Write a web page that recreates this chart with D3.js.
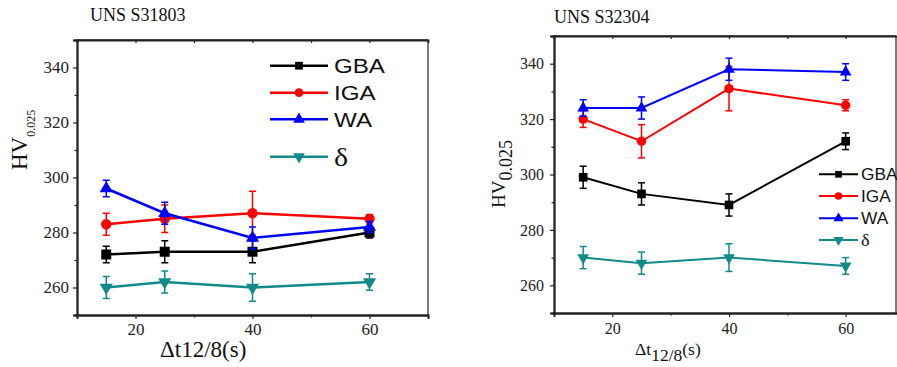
<!DOCTYPE html>
<html><head><meta charset="utf-8">
<script src="https://cdn.jsdelivr.net/npm/d3@7"></script>
<style>html,body{margin:0;padding:0;background:#fff;}svg{display:block;}</style>
</head><body>
<script>
// ---- data ----
const xValues = [15, 25, 40, 60];
const seriesNames = ["GBA", "IGA", "WA", "δ"];
const seriesColors = ["#000000", "#ff0000", "#0000ff", "#138a8a"];
const seriesShapes = ["square", "circle", "triangle", "triangleDown"];

// UNS S31803
const s31803_GBA = [272, 273, 273, 280];
const s31803_GBA_err = [3, 4, 4, 2];
const s31803_IGA = [283, 285, 287, 285];
const s31803_IGA_err = [4, 5, 8, 1.5];
const s31803_WA = [296, 287, 278, 282];
const s31803_WA_err = [3, 4, 4, 2];
const s31803_delta = [260, 262, 260, 262];
const s31803_delta_err = [4, 4, 5, 3];

// UNS S32304
const s32304_GBA = [299, 293, 289, 312];
const s32304_GBA_err = [4, 4, 4, 3];
const s32304_IGA = [320, 312, 331, 325];
const s32304_IGA_err = [3, 6, 8, 2];
const s32304_WA = [324, 324, 338, 337];
const s32304_WA_err = [3, 4, 4, 3];
const s32304_delta = [270, 268, 270, 267];
const s32304_delta_err = [4, 4, 5, 3];

const yTicks = [260, 280, 300, 320, 340];
const yMinorTicks = [270, 290, 310, 330, 350];
const xTicks = [20, 40, 60];
const xMinorTicks = [30, 50];
const xDomain = [10, 70];
const yDomain = [250, 350];

const W = 897, H = 367;
const SERIF = "'Liberation Serif','Times New Roman',serif";
const SANS = "'Liberation Sans',Arial,sans-serif";

const svg = d3.select("body").append("svg").attr("width", W).attr("height", H);

function symbolPath(shape, size) {
  if (shape === "square") return d3.symbol(d3.symbolSquare, size)();
  if (shape === "circle") return d3.symbol(d3.symbolCircle, size)();
  return d3.symbol(d3.symbolTriangle, size)();
}

function drawPanel(cfg) {
  const g = svg.append("g");
  const x = d3.scaleLinear().domain(xDomain).range([cfg.left, cfg.left + cfg.xSpan]);
  const y = d3.scaleLinear().domain(yDomain).range([cfg.bottom, cfg.top]);
  const right = Math.min(x(xDomain[1]), W - 1);

  // frame top/right
  g.append("line").attr("x1", cfg.left).attr("x2", right).attr("y1", cfg.top).attr("y2", cfg.top)
    .attr("stroke", "#333").attr("stroke-width", 1.3);
  g.append("line").attr("x1", right).attr("x2", right).attr("y1", cfg.top).attr("y2", cfg.bottom)
    .attr("stroke", "#333").attr("stroke-width", 1.3);

  // axes
  const yAx = g.append("g").attr("transform", `translate(${cfg.left},0)`)
    .call(d3.axisLeft(y).tickValues(yTicks).tickSize(4).tickPadding(cfg.yPad).tickFormat(d3.format("d")));
  g.append("g").attr("transform", `translate(${cfg.left},0)`)
    .call(d3.axisLeft(y).tickValues(yMinorTicks).tickSize(2.5).tickFormat(""));
  const xAx = g.append("g").attr("transform", `translate(0,${cfg.bottom})`)
    .call(d3.axisBottom(x).tickValues(xTicks).tickSize(4).tickPadding(cfg.xPad).tickFormat(d3.format("d")));
  g.append("g").attr("transform", `translate(0,${cfg.bottom})`)
    .call(d3.axisBottom(x).tickValues(xMinorTicks).tickSize(2.5).tickFormat(""));
  // top inward ticks
  g.append("g").attr("transform", `translate(0,${cfg.top})`)
    .call(d3.axisTop(x).tickValues(xTicks.concat(xMinorTicks)).tickSize(-3).tickFormat(""));
  g.selectAll(".domain").attr("stroke", "#222").attr("stroke-width", 1.8);
  g.selectAll(".tick line").attr("stroke", "#222").attr("stroke-width", 1.2);
  [yAx, xAx].forEach(a => a.selectAll("text").attr("font-family", SERIF)
    .attr("font-size", cfg.tickFont).attr("fill", "#222"));

  // series
  cfg.series.forEach((s, i) => {
    const color = seriesColors[i];
    const pts = xValues.map((xv, k) => ({ x: xv, y: s.v[k], e: s.e[k] }));
    const sg = g.append("g");
    sg.append("path").datum(pts)
      .attr("d", d3.line().x(d => x(d.x)).y(d => y(d.y)))
      .attr("fill", "none").attr("stroke", color).attr("stroke-width", cfg.lineW);
    const eb = sg.selectAll(".eb").data(pts).enter().append("g");
    eb.append("line").attr("x1", d => x(d.x)).attr("x2", d => x(d.x))
      .attr("y1", d => y(d.y - d.e)).attr("y2", d => y(d.y + d.e))
      .attr("stroke", color).attr("stroke-width", 1.5);
    [1, -1].forEach(sgn => {
      eb.append("line").attr("x1", d => x(d.x) - 3.5).attr("x2", d => x(d.x) + 3.5)
        .attr("y1", d => y(d.y + sgn * d.e)).attr("y2", d => y(d.y + sgn * d.e))
        .attr("stroke", color).attr("stroke-width", 1.5);
    });
    const shape = seriesShapes[i];
    sg.selectAll(".mk").data(pts).enter().append("path")
      .attr("d", symbolPath(shape, cfg.mSize[shape]))
      .attr("transform", d => `translate(${x(d.x)},${y(d.y)})` + (shape === "triangleDown" ? " rotate(180)" : ""))
      .attr("fill", color);
  });

  // legend
  const L = cfg.legend;
  seriesNames.forEach((name, i) => {
    const ly = L.ys[i];
    const color = seriesColors[i];
    g.append("line").attr("x1", L.x1).attr("x2", L.x2).attr("y1", ly).attr("y2", ly)
      .attr("stroke", color).attr("stroke-width", L.lineW);
    const shape = seriesShapes[i];
    g.append("path").attr("d", symbolPath(shape, L.mSize))
      .attr("transform", `translate(${(L.x1 + L.x2) / 2},${ly})` + (shape === "triangleDown" ? " rotate(180)" : ""))
      .attr("fill", color);
    const isGreek = name === "δ";
    g.append("text").attr("transform", `translate(${L.tx},${ly}) scale(${L.sx},1)`)
      .attr("dy", "0.36em").attr("font-family", isGreek ? SERIF : SANS)
      .attr("font-size", isGreek ? L.greekFont : L.font)
      .attr("fill", "#111").text(name);
  });

  // title
  g.append("text").attr("x", cfg.title.x).attr("y", cfg.title.y).attr("font-family", SERIF)
    .attr("font-size", cfg.title.font).attr("fill", "#111").text(cfg.title.text);

  return g;
}

drawPanel({
  left: 77, xSpan: 351, top: 40, bottom: 315,
  tickFont: "17px", yPad: 4, xPad: 4, lineW: 2.5,
  mSize: { square: 100, circle: 85, triangle: 75, triangleDown: 75 },
  series: [
    { v: s31803_GBA, e: s31803_GBA_err }, { v: s31803_IGA, e: s31803_IGA_err },
    { v: s31803_WA, e: s31803_WA_err }, { v: s31803_delta, e: s31803_delta_err }],
  legend: { x1: 270, x2: 328, tx: 334, ys: [65.7, 92.7, 119.3, 156.7], font: "21px", greekFont: "26px", sx: 1.15, lineW: 2.5, mSize: 60 },
  title: { x: 90, y: 21, font: "18px", text: "UNS S31803" }
});

drawPanel({
  left: 554, xSpan: 350, top: 36, bottom: 313,
  tickFont: "16px", yPad: 6, xPad: 6, lineW: 2,
  mSize: { square: 75, circle: 70, triangle: 60, triangleDown: 60 },
  series: [
    { v: s32304_GBA, e: s32304_GBA_err }, { v: s32304_IGA, e: s32304_IGA_err },
    { v: s32304_WA, e: s32304_WA_err }, { v: s32304_delta, e: s32304_delta_err }],
  legend: { x1: 819, x2: 858, tx: 861, ys: [174.3, 196, 218.3, 240], font: "16px", greekFont: "17px", sx: 1.08, lineW: 2, mSize: 45 },
  title: { x: 554, y: 23, font: "18px", text: "UNS S32304" }
});

// axis titles, left panel
const yt1 = svg.append("text").attr("transform", "translate(27,170) rotate(-90)")
  .attr("font-family", SERIF).attr("fill", "#111");
yt1.append("tspan").attr("font-size", "23px").text("HV");
yt1.append("tspan").attr("font-size", "12px").attr("dy", 8).text("0.025");

svg.append("text").attr("x", 160).attr("y", 357).attr("font-family", SERIF)
  .attr("font-size", "23px").attr("fill", "#111").text("Δt12/8(s)");

// axis titles, right panel
const yt2 = svg.append("text").attr("transform", "translate(505,208) rotate(-90)")
  .attr("font-family", SERIF).attr("fill", "#111");
yt2.append("tspan").attr("font-size", "19px").text("HV");
yt2.append("tspan").attr("font-size", "18px").attr("dy", 7).text("0.025");

const xt2 = svg.append("text").attr("x", 635).attr("y", 355).attr("font-family", SERIF)
  .attr("font-size", "17.5px").attr("fill", "#111");
xt2.append("tspan").text("Δt");
xt2.append("tspan").attr("dy", 6).text("12/8");
xt2.append("tspan").attr("dy", -6).text("(s)");
</script>
</body></html>
